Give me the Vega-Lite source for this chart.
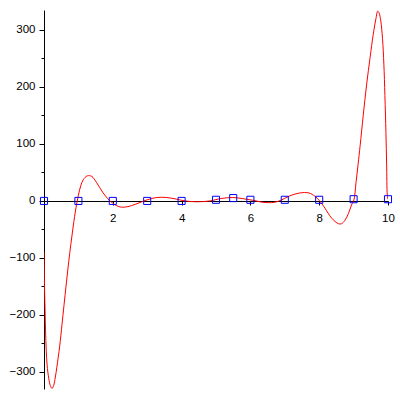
{
  "$schema": "https://vega.github.io/schema/vega-lite/v6.json",
  "width": 344,
  "height": 379,
  "autosize": "none",
  "padding": {"left": 44, "top": 10, "right": 12, "bottom": 11},
  "background": "white",
  "config": {
    "view": {"stroke": null},
    "axis": {
      "grid": false,
      "domainColor": "black",
      "tickColor": "black",
      "labelColor": "black",
      "labelFont": "Liberation Sans",
      "labelFontSize": 11.5,
      "title": null,
      "domainWidth": 1,
      "tickWidth": 1
    }
  },
  "datasets": {
    "curve": [
      {"x": 0, "y": -89}, {"x": 0.015, "y": -150}, {"x": 0.03, "y": -190}, {"x": 0.045, "y": -228},
      {"x": 0.065, "y": -262}, {"x": 0.09, "y": -288}, {"x": 0.137, "y": -311}, {"x": 0.183, "y": -324},
      {"x": 0.233, "y": -329}, {"x": 0.28, "y": -324}, {"x": 0.33, "y": -309}, {"x": 0.41, "y": -276},
      {"x": 0.46, "y": -253}, {"x": 0.523, "y": -217}, {"x": 0.58, "y": -184}, {"x": 0.65, "y": -144},
      {"x": 0.72, "y": -106}, {"x": 0.78, "y": -76}, {"x": 0.85, "y": -44}, {"x": 0.93, "y": -12},
      {"x": 1.0, "y": 10}, {"x": 1.07, "y": 27}, {"x": 1.14, "y": 37}, {"x": 1.26, "y": 44},
      {"x": 1.39, "y": 43}, {"x": 1.53, "y": 32}, {"x": 1.72, "y": 14}, {"x": 1.9, "y": 1},
      {"x": 2.0, "y": -4}, {"x": 2.1, "y": -8}, {"x": 2.25, "y": -11}, {"x": 2.44, "y": -10},
      {"x": 2.65, "y": -6}, {"x": 2.82, "y": -2}, {"x": 3.0, "y": 2}, {"x": 3.28, "y": 6},
      {"x": 3.57, "y": 6}, {"x": 3.86, "y": 3}, {"x": 4.1, "y": 0}, {"x": 4.44, "y": -1.5},
      {"x": 4.83, "y": 0}, {"x": 5.12, "y": 4}, {"x": 5.49, "y": 6}, {"x": 5.78, "y": 4},
      {"x": 6.13, "y": 0.5}, {"x": 6.37, "y": -2.5}, {"x": 6.69, "y": -2.5}, {"x": 6.86, "y": 0.5},
      {"x": 7.15, "y": 9}, {"x": 7.44, "y": 14}, {"x": 7.7, "y": 14}, {"x": 7.88, "y": 8},
      {"x": 8.0, "y": 1}, {"x": 8.17, "y": -13}, {"x": 8.36, "y": -30}, {"x": 8.56, "y": -40},
      {"x": 8.65, "y": -40}, {"x": 8.75, "y": -34}, {"x": 8.85, "y": -22}, {"x": 8.94, "y": -7},
      {"x": 9.01, "y": 2}, {"x": 9.07, "y": 32}, {"x": 9.13, "y": 64}, {"x": 9.19, "y": 97},
      {"x": 9.28, "y": 150}, {"x": 9.38, "y": 205}, {"x": 9.48, "y": 252}, {"x": 9.57, "y": 292},
      {"x": 9.65, "y": 320}, {"x": 9.70, "y": 333}, {"x": 9.74, "y": 330}, {"x": 9.79, "y": 316},
      {"x": 9.84, "y": 285}, {"x": 9.88, "y": 240}, {"x": 9.91, "y": 185}, {"x": 9.94, "y": 120},
      {"x": 9.96, "y": 65}, {"x": 9.98, "y": 10}, {"x": 10.0, "y": 3}
    ],
    "points": [
      {"x": 0, "y": 0}, {"x": 1, "y": 0}, {"x": 2, "y": 0}, {"x": 3, "y": 0},
      {"x": 4, "y": 0}, {"x": 5, "y": 2}, {"x": 5.5, "y": 5}, {"x": 6, "y": 2},
      {"x": 7, "y": 2}, {"x": 8, "y": 2}, {"x": 9, "y": 3}, {"x": 10, "y": 3}
    ]
  },
  "resolve": {"axis": {"y": "independent"}},
  "layer": [
    {
      "data": {"name": "curve"},
      "mark": {"type": "line", "color": "#ff0000", "strokeWidth": 1, "interpolate": "catmull-rom", "clip": true},
      "encoding": {
        "x": {
          "field": "x", "type": "quantitative",
          "scale": {"domain": [0, 10], "nice": false, "zero": false},
          "axis": {"orient": "bottom", "offset": -188, "values": [2, 4, 6, 8, 10], "tickSize": 4, "labelPadding": 7, "labelFlush": false}
        },
        "y": {
          "field": "y", "type": "quantitative",
          "scale": {"domain": [-330, 335], "nice": false, "zero": false},
          "axis": {"orient": "left", "values": [-300, -200, -100, 0, 100, 200, 300], "tickSize": 5, "labelPadding": 4, "labelFlush": false}
        }
      }
    },
    {
      "data": {"name": "points"},
      "mark": {"type": "point", "shape": "square", "filled": false, "color": "#0000ff", "size": 50, "strokeWidth": 1, "opacity": 1},
      "encoding": {
        "x": {"field": "x", "type": "quantitative"},
        "y": {
          "field": "y", "type": "quantitative",
          "axis": {"orient": "left", "values": [-250, -150, -50, 50, 150, 250], "labels": false, "domain": false, "tickSize": 3}
        }
      }
    }
  ]
}
